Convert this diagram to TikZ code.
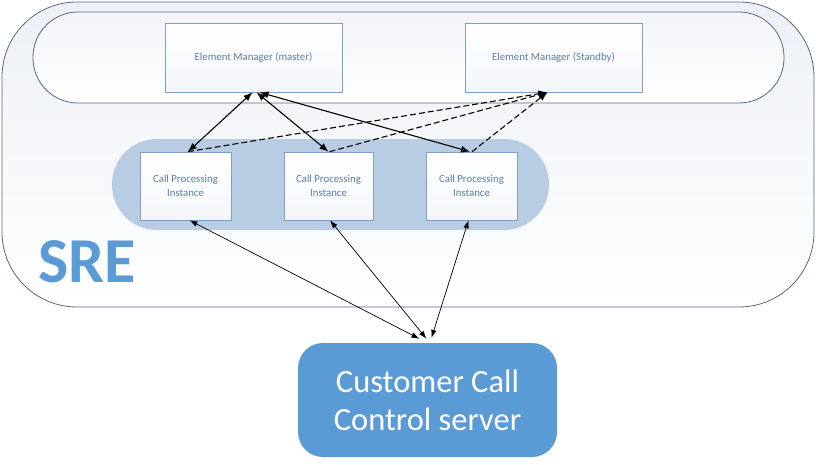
\documentclass[tikz,border=0pt]{standalone}
\usepackage{fontspec}
\setmainfont{Carlito}
\usetikzlibrary{arrows.meta}
\definecolor{slate}{RGB}{88,104,128}
\definecolor{bgtop}{RGB}{236,240,246}
\definecolor{pillblue}{RGB}{184,204,228}
\definecolor{boxborder}{RGB}{128,158,194}
\definecolor{smalltext}{RGB}{95,128,165}
\definecolor{office}{RGB}{91,155,213}
\tikzset{
  region/.style={draw=slate, line width=0.8pt, inner sep=0pt},
  cbox/.style={draw=boxborder, line width=0.6pt, top color=white, bottom color=bgtop!60,
    text=smalltext, font=\fontsize{10.8}{14}\selectfont, align=center, inner sep=0pt},
  solidarrow/.style={line width=1.1pt, {Latex[length=9pt,width=7pt]}-{Latex[length=9pt,width=7pt]}},
  dasharrow/.style={line width=1.1pt, dash pattern=on 6pt off 3pt, -{Latex[length=9pt,width=7pt]}},
  thinarrow/.style={line width=0.7pt, {Latex[length=8pt,width=5.5pt]}-{Latex[length=8pt,width=5.5pt]}}
}
\begin{document}
\begin{tikzpicture}[x=1pt,y=-1pt]
\useasboundingbox (0,0) rectangle (816,464);
% SRE outer region
\node[region, top color=bgtop, bottom color=white, minimum width=812pt, minimum height=305pt, rounded corners=75pt] (sre) at (408,154.5) {};
% top pill
\node[region, top color=bgtop!70, bottom color=white, minimum width=751pt, minimum height=91pt, rounded corners=45pt] (toppill) at (408.5,57.5) {};
% CP pill
\node[fill=pillblue, draw=none, minimum width=437pt, minimum height=91pt, rounded corners=45pt, inner sep=0pt] (cppill) at (330.5,184.5) {};
% element managers
\node[cbox, minimum width=177pt, minimum height=69pt] (master) at (253.5,57.5) {Element Manager (master)};
\node[cbox, minimum width=177pt, minimum height=69pt] (standby) at (553.5,57.5) {Element Manager (Standby)};
% CP instances
\node[cbox, minimum width=91pt, minimum height=68pt] (cp1) at (185.5,186) {Call Processing\\Instance};
\node[cbox, minimum width=89pt, minimum height=68pt] (cp2) at (328.5,186) {Call Processing\\Instance};
\node[cbox, minimum width=91pt, minimum height=68pt] (cp3) at (471.5,186) {Call Processing\\Instance};
% SRE label
\node[anchor=base west, inner sep=0pt, text=office, font=\fontsize{64}{70}\selectfont\bfseries] (srelabel) at (38,282) {SRE};
% customer
\node[fill=office, draw=none, rounded corners=25pt, minimum width=259pt, minimum height=114pt,
  text=white, align=center, font=\fontsize{32.5}{38}\selectfont, inner sep=0pt] (cust) at (427.5,400) {Customer Call\\Control server};
% solid arrows
\draw[solidarrow] ([xshift=-1pt]master.south) -- ([xshift=2.5pt]cp1.north);
\draw[solidarrow] ([xshift=3pt]master.south) -- (cp2.north);
\draw[solidarrow] ([xshift=6pt]master.south) -- ([xshift=-1.5pt]cp3.north);
% dashed arrows
\draw[dasharrow] ([xshift=2.5pt]cp1.north) -- ([xshift=-6pt]standby.south);
\draw[dasharrow] ([xshift=1pt]cp2.north) -- ([xshift=-6pt]standby.south);
\draw[dasharrow] ([xshift=0.5pt]cp3.north) -- ([xshift=-6pt]standby.south);
% bottom arrows
\draw[thinarrow] ([xshift=4pt]cp1.south) -- ([xshift=-8pt,yshift=4pt]cust.north);
\draw[thinarrow] ([xshift=1.5pt]cp2.south) -- ([xshift=-1pt,yshift=4pt]cust.north);
\draw[thinarrow] ([xshift=-3pt]cp3.south) -- ([xshift=4pt,yshift=5pt]cust.north);
\end{tikzpicture}
\end{document}
